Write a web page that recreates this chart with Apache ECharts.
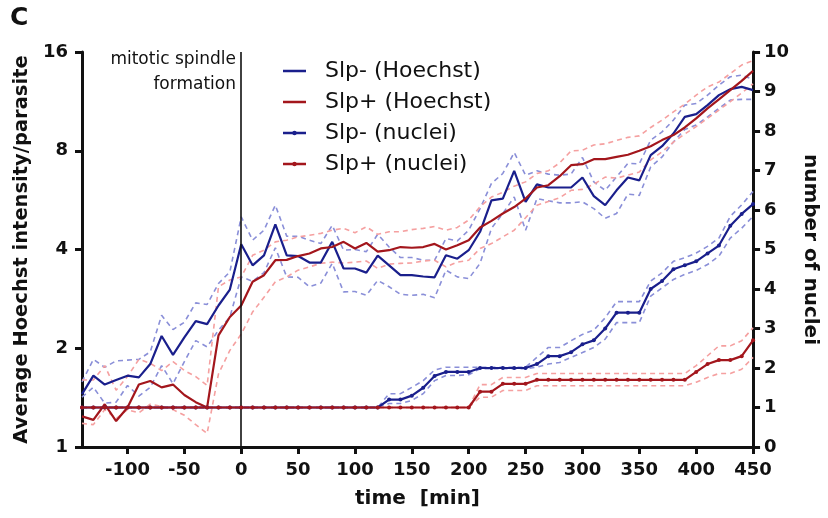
<!DOCTYPE html>
<html>
<head>
<meta charset="utf-8">
<script src="https://cdn.jsdelivr.net/npm/echarts@6/dist/echarts.min.js"></script>
<style>
  html, body { margin: 0; padding: 0; background: #fff; }
  #chart { width: 828px; height: 518px; }
</style>
</head>
<body>
<div id="chart"></div>
<script>
// time points [min]
var times = [-140,-130,-120,-110,-100,-90,-80,-70,-60,-50,-40,-30,-20,-10,0,10,20,30,40,50,
  60,70,80,90,100,110,120,130,140,150,160,170,180,190,200,210,220,230,240,250,
  260,270,280,290,300,310,320,330,340,350,360,370,380,390,400,410,420,430,440,450];

// Average Hoechst intensity / parasite (left, log2 axis)
var slpMinusHoechst = [1.45,1.65,1.55,1.60,1.65,1.63,1.79,2.18,1.91,2.16,2.42,2.37,2.70,3.02,4.15,3.58,3.84,4.77,3.84,3.82,
  3.65,3.65,4.22,3.50,3.50,3.40,3.83,3.58,3.34,3.34,3.31,3.29,3.84,3.75,3.98,4.53,5.65,5.72,6.95,5.59,
  6.32,6.18,6.18,6.18,6.63,5.82,5.46,6.06,6.63,6.50,7.76,8.26,9.03,10.15,10.34,11.02,11.82,12.33,12.53,12.24];
var slpMinusHoechstUp = [1.58,1.85,1.75,1.83,1.84,1.85,1.95,2.52,2.28,2.40,2.75,2.72,3.15,3.42,5.03,4.27,4.58,5.46,4.39,4.39,
  4.27,4.17,4.74,3.98,4.00,3.94,4.45,4.07,3.78,3.78,3.71,3.71,4.32,4.25,4.58,5.33,6.36,6.82,7.90,6.74,
  6.95,6.79,6.74,6.79,7.63,6.43,6.06,6.66,7.32,7.30,8.62,9.13,9.92,11.02,11.15,11.82,12.68,13.45,13.60,13.20];
var slpMinusHoechstLo = [1.42,1.52,1.36,1.37,1.54,1.43,1.52,1.77,1.56,1.82,2.11,2.02,2.27,2.49,3.30,3.20,3.40,4.05,3.30,3.29,
  3.08,3.16,3.63,2.97,2.98,2.90,3.22,3.08,2.92,2.90,2.92,2.85,3.46,3.30,3.26,3.63,4.64,5.15,5.78,4.58,
  5.72,5.63,5.55,5.55,5.59,5.33,4.98,5.15,5.90,5.85,7.14,7.66,8.51,9.29,9.58,10.15,10.77,11.42,11.47,11.47];
var slpPlusHoechst = [1.24,1.21,1.35,1.20,1.32,1.55,1.59,1.52,1.55,1.44,1.37,1.32,2.19,2.49,2.70,3.19,3.34,3.71,3.72,3.82,
  3.89,4.03,4.07,4.22,4.03,4.19,3.94,3.98,4.07,4.05,4.07,4.16,4.00,4.12,4.27,4.67,4.89,5.15,5.39,5.72,
  6.18,6.28,6.69,7.23,7.28,7.54,7.54,7.66,7.78,8.00,8.26,8.62,8.93,9.42,10.04,10.77,11.47,12.24,13.07,14.02];
var slpPlusHoechstUp = [1.60,1.60,1.77,1.49,1.64,1.85,1.80,1.71,1.82,1.71,1.64,1.54,3.08,3.23,3.30,3.84,3.98,4.22,4.27,4.37,
  4.42,4.48,4.58,4.64,4.50,4.69,4.45,4.53,4.53,4.60,4.64,4.70,4.58,4.67,4.92,5.40,5.78,5.98,6.24,6.43,
  6.82,6.95,7.35,7.99,8.03,8.33,8.40,8.60,8.79,8.88,9.42,9.92,10.51,11.10,11.82,12.53,12.96,13.75,14.60,15.07];
var slpPlusHoechstLo = [1.18,1.17,1.30,1.22,1.30,1.27,1.35,1.33,1.30,1.25,1.17,1.10,1.67,1.97,2.21,2.58,2.86,3.19,3.30,3.46,
  3.54,3.63,3.66,3.64,3.66,3.69,3.50,3.61,3.63,3.64,3.69,3.71,3.54,3.66,3.71,4.03,4.17,4.37,4.58,5.00,
  5.46,5.60,5.75,6.06,6.10,6.32,6.65,6.60,6.74,6.89,7.50,7.94,8.50,9.00,9.48,10.04,10.65,11.29,12.00,12.80];

// number of nuclei (right axis)
var slpMinusNuclei = [1,1,1,1,1,1,1,1,1,1,1,1,1,1,1,1,1,1,1,1,
  1,1,1,1,1,1,1,1.2,1.2,1.3,1.5,1.8,1.9,1.9,1.9,2.0,2.0,2.0,2.0,2.0,
  2.1,2.3,2.3,2.4,2.6,2.7,3.0,3.4,3.4,3.4,4.0,4.2,4.5,4.6,4.7,4.9,5.1,5.6,5.9,6.15];
var slpMinusNucleiUp = [1,1,1,1,1,1,1,1,1,1,1,1,1,1,1,1,1,1,1,1,
  1,1,1,1,1,1,1,1.35,1.35,1.51,1.68,1.95,2.02,2.02,2.02,2.02,2.02,2.02,2.02,2.02,
  2.27,2.52,2.52,2.69,2.85,2.96,3.27,3.68,3.68,3.68,4.20,4.41,4.70,4.79,4.91,5.08,5.29,5.84,6.13,6.47];
var slpMinusNucleiLo = [1,1,1,1,1,1,1,1,1,1,1,1,1,1,1,1,1,1,1,1,
  1,1,1,1,1,1,1,1.10,1.10,1.18,1.35,1.68,1.81,1.81,1.83,1.98,1.98,1.98,1.98,1.98,
  2.02,2.10,2.14,2.27,2.39,2.52,2.73,3.15,3.15,3.15,3.82,4.03,4.24,4.37,4.47,4.62,4.83,5.29,5.54,5.84];
var slpPlusNuclei = [1,1,1,1,1,1,1,1,1,1,1,1,1,1,1,1,1,1,1,1,
  1,1,1,1,1,1,1,1,1,1,1,1,1,1,1,1.4,1.4,1.6,1.6,1.6,
  1.7,1.7,1.7,1.7,1.7,1.7,1.7,1.7,1.7,1.7,1.7,1.7,1.7,1.7,1.9,2.1,2.2,2.2,2.3,2.7];
var slpPlusNucleiUp = [1,1,1,1,1,1,1,1,1,1,1,1,1,1,1,1,1,1,1,1,
  1,1,1,1,1,1,1,1,1,1,1,1,1,1,1,1.58,1.58,1.76,1.76,1.76,
  1.86,1.86,1.86,1.86,1.86,1.86,1.86,1.86,1.86,1.86,1.86,1.86,1.86,1.86,2.06,2.31,2.56,2.56,2.69,3.02];
var slpPlusNucleiLo = [1,1,1,1,1,1,1,1,1,1,1,1,1,1,1,1,1,1,1,1,
  1,1,1,1,1,1,1,1,1,1,1,1,1,1,1,1.26,1.26,1.43,1.43,1.43,
  1.55,1.55,1.55,1.55,1.55,1.55,1.55,1.55,1.55,1.55,1.55,1.55,1.55,1.55,1.64,1.76,1.86,1.86,1.97,2.27];

var xTicks = [-100,-50,0,50,100,150,200,250,300,350,400,450];

var NAVY = '#1a1f8c', DARKRED = '#a3161c', LIGHTBLUE = '#8a8fd8', PINK = '#f5a0a0';
var FONT = 'DejaVu Sans';

// legend glyphs: plain line, and line with a dot
var ICON_LINE = 'path://M0,0L0.01,0Z M0,6L0.01,6Z M0,1.8L23,1.8L23,4.2L0,4.2Z';
var ICON_DOT = 'path://M0,0L0.01,0Z M0,6L0.01,6Z M0,1.8L23,1.8L23,4.2L0,4.2Z M9.2,3a2.3,2.3 0 1,1 4.6,0a2.3,2.3 0 1,1 -4.6,0Z';

function pairs(arr) {
  return times.map(function (t, i) { return [t, arr[i]]; });
}
function band(name, arr, color, axis) {
  return {
    name: name, type: 'line', yAxisIndex: axis, data: pairs(arr),
    symbol: 'none', silent: true, z: 2,
    lineStyle: { color: color, width: 1.6, type: [5, 4] }
  };
}

var chart = echarts.init(document.getElementById('chart'));
chart.setOption({
  animation: false,
  backgroundColor: '#fff',
  grid: { left: 82, right: 71, top: 52, bottom: 71 },
  legend: {
    orient: 'vertical', left: 278, top: 55,
    itemWidth: 23, itemHeight: 6, itemGap: 9,
    data: [
      { name: 'Slp- (Hoechst)', icon: ICON_LINE },
      { name: 'Slp+ (Hoechst)', icon: ICON_LINE },
      { name: 'Slp- (nuclei)', icon: ICON_DOT },
      { name: 'Slp+ (nuclei)', icon: ICON_DOT }
    ],
    itemStyle: { borderWidth: 0 },
    lineStyle: { width: 0 },
    textStyle: { fontFamily: FONT, fontSize: 22, color: '#111', lineHeight: 22, padding: [0, 0, 0, 14] }
  },
  graphic: [
    { type: 'text', left: 10, top: 6, style: { text: 'C', font: 'bold 25px "DejaVu Sans"', fill: '#111' } },
    { type: 'text', x: 236, y: 47, style: { text: 'mitotic spindle\nformation', align: 'right',
      font: '17px "DejaVu Sans"', fill: '#111', lineHeight: 25 } }
  ],
  xAxis: {
    type: 'value', min: -140, max: 450,
    name: 'time  [min]', nameLocation: 'middle', nameGap: 42,
    nameTextStyle: { fontFamily: FONT, fontWeight: 'bold', fontSize: 20, color: '#111' },
    axisLine: { onZero: false, lineStyle: { color: '#111', width: 3 } },
    axisTick: { show: true, length: 7, lineStyle: { width: 3, color: '#111' }, customValues: xTicks },
    axisLabel: { customValues: xTicks, margin: 14, fontFamily: FONT, fontWeight: 'bold', fontSize: 18, color: '#111' },
    splitLine: { show: false }
  },
  yAxis: [
    {
      type: 'log', logBase: 2, min: 1, max: 16, position: 'left',
      name: 'Average Hoechst intensity/parasite', nameLocation: 'middle', nameGap: 41,
      nameTextStyle: { fontFamily: FONT, fontWeight: 'bold', fontSize: 19.5, color: '#111' },
      axisLine: { show: true, onZero: false, lineStyle: { color: '#111', width: 3 } },
      axisTick: { show: true, length: 7, lineStyle: { width: 3, color: '#111' } },
      axisLabel: { margin: 14, fontFamily: FONT, fontWeight: 'bold', fontSize: 18, color: '#111' },
      splitLine: { show: false }
    },
    {
      type: 'value', min: 0, max: 10, interval: 1, position: 'right',
      name: 'number of nuclei', nameLocation: 'middle', nameGap: 42, nameRotate: -90,
      nameTextStyle: { fontFamily: FONT, fontWeight: 'bold', fontSize: 20, color: '#111' },
      axisLine: { show: true, onZero: false, lineStyle: { color: '#111', width: 3 } },
      axisTick: { show: true, length: 7, lineStyle: { width: 3, color: '#111' } },
      axisLabel: { margin: 11, fontFamily: FONT, fontWeight: 'bold', fontSize: 18, color: '#111' },
      splitLine: { show: false }
    }
  ],
  series: [
    band('Slp- Hoechst upper', slpMinusHoechstUp, LIGHTBLUE, 0),
    band('Slp- Hoechst lower', slpMinusHoechstLo, LIGHTBLUE, 0),
    band('Slp+ Hoechst upper', slpPlusHoechstUp, PINK, 0),
    band('Slp+ Hoechst lower', slpPlusHoechstLo, PINK, 0),
    band('Slp- nuclei upper', slpMinusNucleiUp, LIGHTBLUE, 1),
    band('Slp- nuclei lower', slpMinusNucleiLo, LIGHTBLUE, 1),
    band('Slp+ nuclei upper', slpPlusNucleiUp, PINK, 1),
    band('Slp+ nuclei lower', slpPlusNucleiLo, PINK, 1),
    {
      name: 'Slp- (Hoechst)', type: 'line', yAxisIndex: 0, data: pairs(slpMinusHoechst),
      symbol: 'none', z: 4, lineStyle: { color: NAVY, width: 2.2 }, itemStyle: { color: NAVY },
      markLine: {
        silent: true, symbol: 'none', label: { show: false },
        lineStyle: { color: '#111', width: 1.6, type: 'solid' },
        data: [{ xAxis: 0 }]
      }
    },
    {
      name: 'Slp+ (Hoechst)', type: 'line', yAxisIndex: 0, data: pairs(slpPlusHoechst),
      symbol: 'none', z: 4, lineStyle: { color: DARKRED, width: 2.2 }, itemStyle: { color: DARKRED }
    },
    {
      name: 'Slp- (nuclei)', type: 'line', yAxisIndex: 1, data: pairs(slpMinusNuclei),
      symbol: 'circle', symbolSize: 4, showAllSymbol: true, z: 4,
      lineStyle: { color: NAVY, width: 2.2 }, itemStyle: { color: NAVY }
    },
    {
      name: 'Slp+ (nuclei)', type: 'line', yAxisIndex: 1, data: pairs(slpPlusNuclei),
      symbol: 'circle', symbolSize: 4, showAllSymbol: true, z: 5,
      lineStyle: { color: DARKRED, width: 2.2 }, itemStyle: { color: DARKRED }
    }
  ]
});
</script>
</body>
</html>
